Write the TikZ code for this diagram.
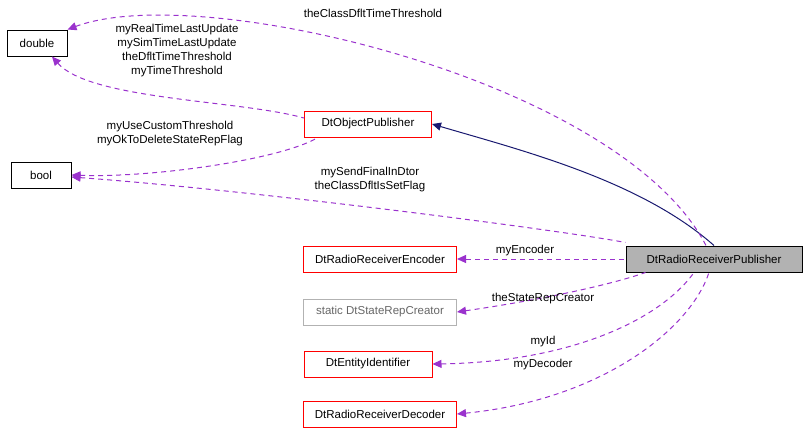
\documentclass[tikz,border=0pt]{standalone}
\usepackage{fontspec}
\setmainfont{Liberation Sans}
\usetikzlibrary{arrows.meta,positioning,calc}
\definecolor{relpurple}{RGB}{154,50,205}
\definecolor{inhnavy}{RGB}{25,25,112}
\tikzset{x=1pt,y=-1pt,
        every node/.style={font=\fontsize{11.5}{14}\selectfont},
        cls/.style={draw=black,rectangle,line width=1pt,minimum height=26pt,inner sep=3pt}, % Doxygen class box
        redcls/.style={cls,draw=red},
        grycls/.style={cls,draw=gray!60},
        usage/.style={draw=relpurple,line width=1pt,dash pattern=on 5pt off 4pt,{Triangle[length=9pt,width=8pt,fill=relpurple]}-}, % usage relation
        inherit/.style={draw=inhnavy,line width=1pt,-{Triangle[length=9pt,width=8pt,fill=inhnavy]}},
        lbl/.style={align=center,inner sep=0pt}
        }
\begin{document}
\begin{tikzpicture}
    \useasboundingbox (0,0) rectangle (808,440);
    \node[cls,minimum width=60pt]         (double)  at (37,43)  {double};
    \node[cls,minimum width=60pt]         (bool)    at (41,175) {bool};
    \node[redcls,minimum width=127pt]     (objpub)  at (368,124) {DtObjectPublisher};
    \node[cls,fill=gray!60,minimum width=176pt] (rrpub) at (714,259) {DtRadioReceiverPublisher};
    \node[redcls,minimum width=153pt]     (encoder) at (380,259) {DtRadioReceiverEncoder};
    \node[grycls,minimum width=153pt,text=gray!80!black] (creator) at (380,312) {static DtStateRepCreator};
    \node[redcls,minimum width=128pt]     (entity)  at (368,364) {DtEntityIdentifier};
    \node[redcls,minimum width=153pt]     (decoder) at (380,414) {DtRadioReceiverDecoder};

    \draw[inherit] (rrpub.north) .. controls (640,180) and (520,150) .. (objpub.east);

    \draw[usage] (double.north east) .. controls (200,-20) and (620,80) .. ($(rrpub.north)+(-8,0)$);
    \draw[usage] ($(double.south)+(15,0)$) .. controls (90,100) and (240,100) .. ($(objpub.west)+(0,-6)$);
    \draw[usage] (bool.east) .. controls (150,178) and (280,160) .. ($(objpub.south west)+(14,0)$);
    \draw[usage] ($(bool.east)+(0,2)$) .. controls (250,190) and (560,230) .. ($(rrpub.north west)+(0,-3)$);
    \draw[usage] (encoder.east) -- (rrpub.west);
    \draw[usage] (creator.east) .. controls (540,300) and (610,285) .. ($(rrpub.south west)+(20,0)$);
    \draw[usage] (entity.east) .. controls (570,362) and (660,320) .. ($(rrpub.south)+(-20,0)$);
    \draw[usage] (decoder.east) .. controls (600,400) and (690,330) .. ($(rrpub.south)+(-5,0)$);

    \node[lbl] (l1) at (373,13) {theClassDfltTimeThreshold};
    \node[lbl] (l2) at (177,51) {myRealTimeLastUpdate\\mySimTimeLastUpdate\\theDfltTimeThreshold\\myTimeThreshold};
    \node[lbl] (l3) at (170,134) {myUseCustomThreshold\\myOkToDeleteStateRepFlag};
    \node[lbl] (l4) at (370,180) {mySendFinalInDtor\\theClassDfltIsSetFlag};
    \node[lbl] (l5) at (525,251) {myEncoder};
    \node[lbl] (l6) at (543,299) {theStateRepCreator};
    \node[lbl] (l7) at (543,342) {myId};
    \node[lbl] (l8) at (543,365) {myDecoder};
\end{tikzpicture}
\end{document}
